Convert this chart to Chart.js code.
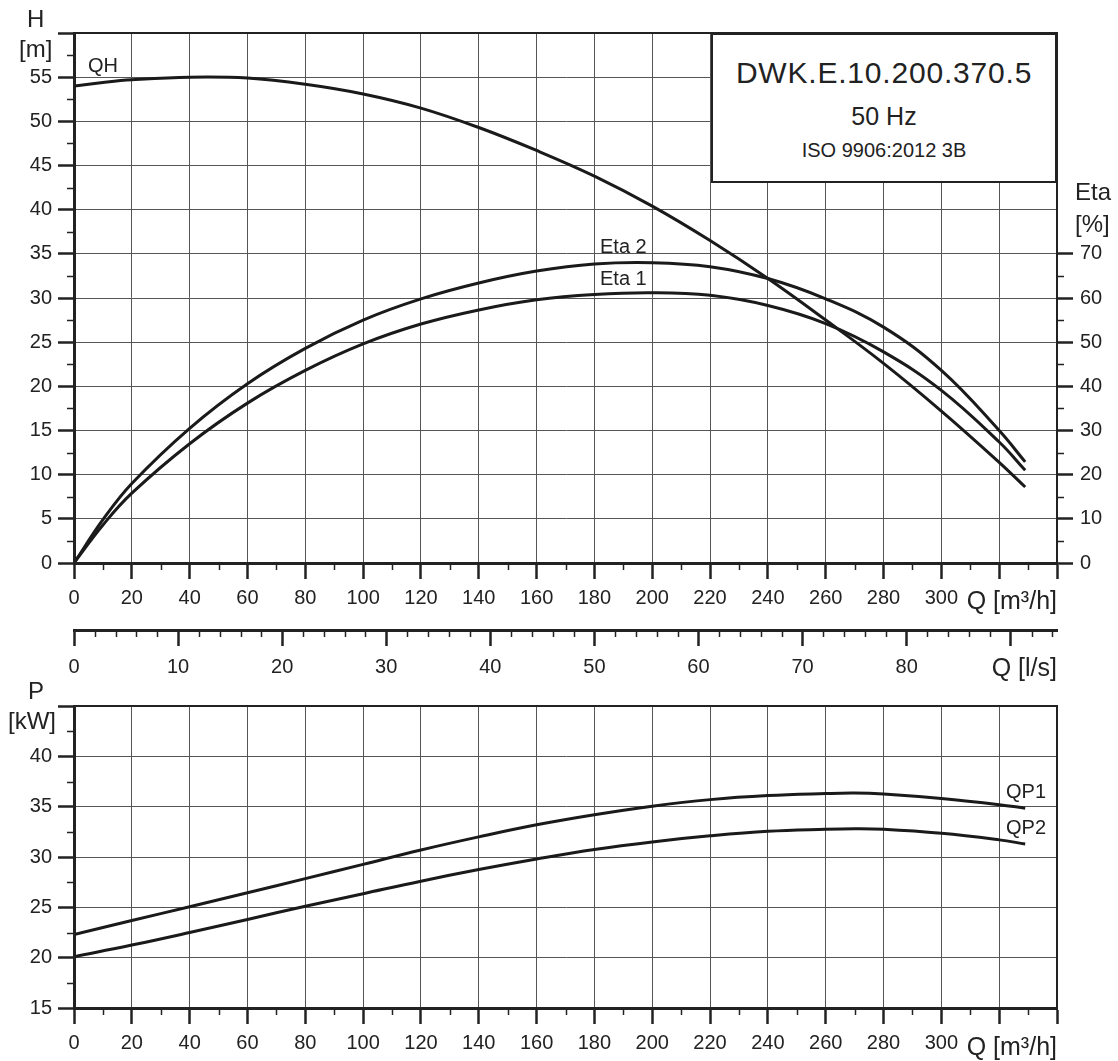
<!DOCTYPE html>
<html><head><meta charset="utf-8">
<script src="https://cdn.jsdelivr.net/npm/chart.js@4.4.1/dist/chart.umd.min.js"></script>
<style>
body{margin:0;background:#fff;}
#wrap{position:relative;width:1118px;height:1061px;overflow:hidden;font-family:'Liberation Sans',Arial,Helvetica,sans-serif;color:#222;}
canvas{position:absolute;left:0;}
.t{position:absolute;white-space:nowrap;line-height:1;}
#box{position:absolute;left:711px;top:33px;width:346px;height:150px;box-sizing:border-box;border:2px solid #222;background:#fff;}
#box .c{position:absolute;left:0;right:0;text-align:center;white-space:nowrap;line-height:1;}
</style></head><body>
<div id="wrap">
<canvas id="topChart" width="1118" height="680" style="top:0"></canvas>
<canvas id="botChart" width="1118" height="381" style="top:680px"></canvas>
<div id="box">
  <div class="c" style="top:22.6px;font-size:30px;letter-spacing:0.8px;">DWK.E.10.200.370.5</div>
  <div class="c" style="top:68.8px;font-size:25px;">50 Hz</div>
  <div class="c" style="top:105.1px;font-size:20px;">ISO 9906:2012 3B</div>
</div>
<div class="t" style="left:27px;top:6.7px;font-size:24px;">H</div>
<div class="t" style="left:19px;top:36.7px;font-size:24px;">[m]</div>
<div class="t" style="left:1075px;top:179.7px;font-size:24px;">Eta</div>
<div class="t" style="left:1075px;top:211.7px;font-size:24px;">[%]</div>
<div class="t" style="left:28px;top:678.7px;font-size:24px;">P</div>
<div class="t" style="left:8px;top:708.7px;font-size:24px;">[kW]</div>
<div class="t" style="right:61px;top:587.8px;font-size:25px;">Q [m³/h]</div>
<div class="t" style="right:61px;top:654.8px;font-size:25px;">Q [l/s]</div>
<div class="t" style="right:61px;top:1033.8px;font-size:25px;">Q [m³/h]</div>
<div class="t" style="left:88px;top:55.1px;font-size:20px;">QH</div>
<div class="t" style="left:600px;top:236.1px;font-size:20px;">Eta 2</div>
<div class="t" style="left:600px;top:268.1px;font-size:20px;">Eta 1</div>
<div class="t" style="left:1006px;top:781.1px;font-size:20px;">QP1</div>
<div class="t" style="left:1006px;top:817.1px;font-size:20px;">QP2</div>
</div>
<script>
// ---------- data ----------
const qHyd  = [0, 10, 20, 40, 60, 80, 100, 120, 140, 160, 180, 200, 220, 240, 260, 280, 300, 320, 329];
const headH = [54.0, 54.4, 54.7, 55.0, 54.9, 54.2, 53.1, 51.5, 49.3, 46.7, 43.8, 40.4, 36.5, 32.2, 27.5, 22.6, 17.2, 11.4, 8.6];
const eta1  = [0, 8.6, 15.8, 27.0, 36.2, 43.6, 49.6, 54.1, 57.3, 59.6, 60.8, 61.2, 60.6, 58.3, 54.2, 47.8, 39.1, 27.4, 21.0];
const eta2  = [0, 9.8, 18.0, 30.5, 40.6, 48.6, 55.0, 59.8, 63.4, 66.1, 67.7, 68.0, 67.1, 64.4, 59.8, 53.4, 43.6, 30.0, 22.9];
const qPow  = [0, 20, 40, 60, 80, 100, 120, 140, 160, 180, 200, 220, 240, 260, 270, 280, 300, 320, 329];
const powP1 = [22.3, 23.7, 25.05, 26.45, 27.85, 29.27, 30.7, 32.0, 33.2, 34.2, 35.05, 35.7, 36.1, 36.3, 36.35, 36.25, 35.8, 35.2, 34.85];
const powP2 = [20.1, 21.25, 22.5, 23.8, 25.1, 26.35, 27.6, 28.75, 29.8, 30.75, 31.5, 32.1, 32.55, 32.75, 32.8, 32.75, 32.35, 31.7, 31.3];
const flowTicks = [0,20,40,60,80,100,120,140,160,180,200,220,240,260,280,300,320,340];
const flowLabelMax = 300;
const lsTicks = [0,10,20,30,40,50,60,70,80,90];
const lsLabelMax = 80;
const etaTicks = [0,10,20,30,40,50,60,70];

// ---------- helpers ----------
const FAMILY = "'Liberation Sans', Arial, Helvetica, sans-serif";
Chart.defaults.font.family = FAMILY;
Chart.defaults.color = '#222';
const INK = '#222', GRID = '#555';
const tickFont = {family: FAMILY, size: 20};
const pts = (xs, ys) => xs.map((x, i) => ({x, y: ys[i]}));
const fixW = w => s => { s.width = w; };
const fixH = h => s => { s.height = h; };
const setTicks = arr => s => { s.ticks = arr.map(v => ({value: v})); };
const curve = (data, yAxisID) => ({data, yAxisID, borderColor: '#1a1a1a', borderWidth: 3,
  pointRadius: 0, tension: 0.4, fill: false});
const majorGrid = {color: GRID, lineWidth: 1, tickLength: 16, tickWidth: 2.5, tickColor: INK};

const minorTicks = {
  id: 'minorTicks',
  afterDraw(chart, args, opts) {
    const ctx = chart.ctx;
    ctx.save();
    ctx.strokeStyle = INK; ctx.lineWidth = 1.5;
    (opts.list || []).forEach(m => {
      const s = chart.scales[m.scale];
      for (let i = 0; ; i++) {
        const v = m.start + i * m.step;
        if (v > m.max + 1e-9) break;
        if (m.skip && Math.abs(v / m.skip - Math.round(v / m.skip)) < 1e-9) continue;
        const p = Math.round(s.getPixelForValue(v)) + 0.5;
        ctx.beginPath();
        if (s.isHorizontal()) { ctx.moveTo(p, s.top); ctx.lineTo(p, s.top + m.len); }
        else if (s.position === 'left') { ctx.moveTo(s.right, p); ctx.lineTo(s.right - m.len, p); }
        else { ctx.moveTo(s.left, p); ctx.lineTo(s.left + m.len, p); }
        ctx.stroke();
      }
    });
    ctx.restore();
  }
};
const frame = {
  id: 'frame',
  afterDraw(chart) {
    const a = chart.chartArea, ctx = chart.ctx;
    ctx.save(); ctx.strokeStyle = INK; ctx.lineWidth = 2;
    ctx.strokeRect(a.left, a.top, a.right - a.left, a.bottom - a.top);
    ctx.restore();
  }
};

// ---------- top chart: H / Eta ----------
new Chart(document.getElementById('topChart'), {
  type: 'line',
  data: {datasets: [
    curve(pts(qHyd, headH), 'y'),
    curve(pts(qHyd, eta2), 'y2'),
    curve(pts(qHyd, eta1), 'y2')
  ]},
  options: {
    responsive: false, animation: false, events: [],
    layout: {padding: {top: 33, left: 0, right: 0, bottom: 0}},
    plugins: {legend: {display: false}, tooltip: {enabled: false},
      minorTicks: {list: [
        {scale: 'x', start: 10, step: 20, max: 330, len: 7},
        {scale: 'x2', start: 2, step: 2, max: 94, len: 7, skip: 10},
        {scale: 'y', start: 2.5, step: 5, max: 57.5, len: 7},
        {scale: 'y2', start: 5, step: 10, max: 65, len: 7}
      ]}},
    scales: {
      x: {type: 'linear', position: 'bottom', weight: 0, min: 0, max: 340,
        afterBuildTicks: setTicks(flowTicks), afterFit: fixH(67),
        ticks: {autoSkip: false, maxRotation: 0, padding: 7, font: tickFont, color: INK,
          callback: v => v <= flowLabelMax ? v : ''},
        grid: majorGrid, border: {color: INK, width: 3}},
      x2: {type: 'linear', position: 'bottom', weight: 1, min: 0, max: 340 / 3.6,
        afterBuildTicks: setTicks(lsTicks), afterFit: fixH(50),
        ticks: {autoSkip: false, maxRotation: 0, padding: 9, font: tickFont, color: INK,
          callback: v => v <= lsLabelMax ? v : ''},
        grid: {drawOnChartArea: false, tickLength: 16, tickWidth: 2.5, tickColor: INK},
        border: {color: INK, width: 3}},
      y: {type: 'linear', position: 'left', min: 0, max: 60,
        ticks: {stepSize: 5, padding: 6, font: tickFont, color: INK, callback: v => v < 60 ? v : ''},
        afterFit: fixW(74), grid: majorGrid, border: {color: INK, width: 3}},
      y2: {type: 'linear', position: 'right', min: 0, max: 120,
        afterBuildTicks: setTicks(etaTicks), afterFit: fixW(61),
        ticks: {padding: 7, font: tickFont, color: INK},
        grid: {drawOnChartArea: false, tickLength: 16, tickWidth: 2.5, tickColor: INK},
        border: {color: INK, width: 2}}
    }
  },
  plugins: [minorTicks, frame]
});

// ---------- bottom chart: P ----------
new Chart(document.getElementById('botChart'), {
  type: 'line',
  data: {datasets: [
    curve(pts(qPow, powP1), 'y'),
    curve(pts(qPow, powP2), 'y')
  ]},
  options: {
    responsive: false, animation: false, events: [],
    layout: {padding: {top: 26, left: 0, right: 61, bottom: 0}},
    plugins: {legend: {display: false}, tooltip: {enabled: false},
      minorTicks: {list: [
        {scale: 'x', start: 10, step: 20, max: 330, len: 7},
        {scale: 'y', start: 17.5, step: 5, max: 42.5, len: 7}
      ]}},
    scales: {
      x: {type: 'linear', position: 'bottom', min: 0, max: 340,
        afterBuildTicks: setTicks(flowTicks), afterFit: fixH(53),
        ticks: {autoSkip: false, maxRotation: 0, padding: 7, font: tickFont, color: INK,
          callback: v => v <= flowLabelMax ? v : ''},
        grid: majorGrid, border: {color: INK, width: 3}},
      y: {type: 'linear', position: 'left', min: 15, max: 45,
        ticks: {stepSize: 5, padding: 6, font: tickFont, color: INK, callback: v => v < 45 ? v : ''},
        afterFit: fixW(74), grid: majorGrid, border: {color: INK, width: 3}}
    }
  },
  plugins: [minorTicks, frame]
});
</script>
</body></html>
